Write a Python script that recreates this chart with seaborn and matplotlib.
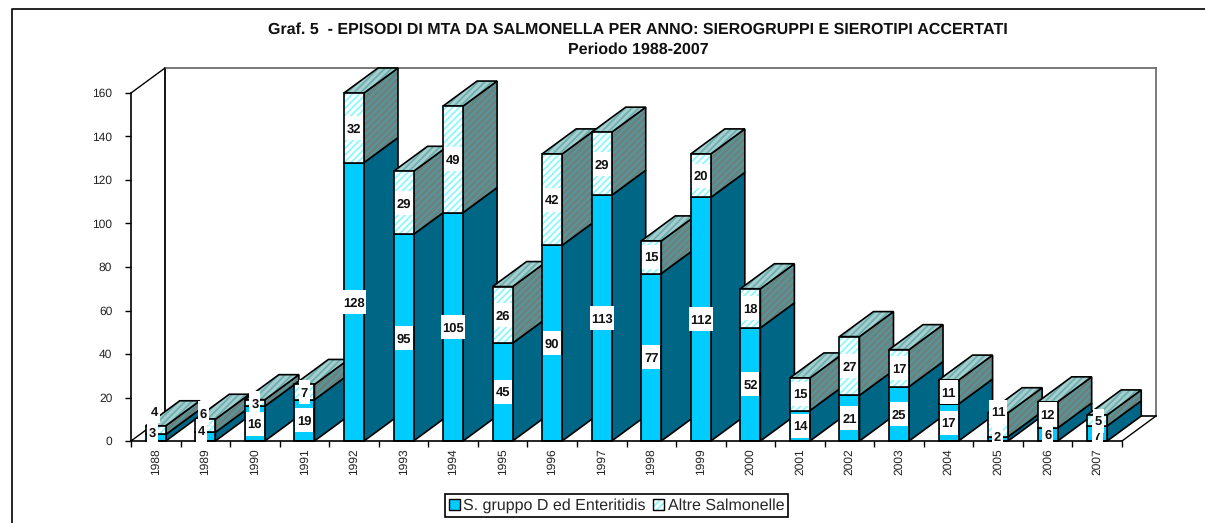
import matplotlib
matplotlib.use("Agg")
import matplotlib.pyplot as plt
import seaborn as sns
from matplotlib.patches import Polygon, Patch, Rectangle
from matplotlib.lines import Line2D
from matplotlib.transforms import Affine2D
from matplotlib.legend_handler import HandlerTuple

years = ["1988","1989","1990","1991","1992","1993","1994","1995","1996","1997",
         "1998","1999","2000","2001","2002","2003","2004","2005","2006","2007"]
gruppo_d = [3,4,16,19,128,95,105,45,90,113,77,112,52,14,21,25,17,2,6,7]
altre = [4,6,3,7,32,29,49,26,42,29,15,20,18,15,27,17,11,11,12,5]

title_1 = "Graf. 5  - EPISODI DI MTA DA SALMONELLA PER ANNO: SIEROGRUPPI E SIEROTIPI ACCERTATI"
title_2 = "Periodo 1988-2007"
legend_labels = ["S. gruppo D ed Enteritidis", "Altre Salmonelle"]

# manual label shifts (pixels, x right / y up) as moved in the original chart
shift_d = {0: (-3, 6), 1: (-4, 6), 17: (-1, 3), 19: (0, -2)}
shift_a = {0: (-1, 19), 1: (-2, 13), 17: (0, 13), 18: (0, 1), 19: (1, -1)}

W, H = 1205, 523
DEPTH = (34, 25)
BAR_PX = 20

sns.set_style("white")
plt.rcParams["font.family"] = ["Liberation Sans", "DejaVu Sans"]
plt.rcParams["hatch.linewidth"] = 1.3
plt.rcParams["text.hinting"] = "no_hinting"
plt.rcParams["text.hinting_factor"] = 1

fig = plt.figure(figsize=(W / 100, H / 100), dpi=100)
L, R, T, B = 131, 1122, 93, 441
ax = fig.add_axes([L / W, 1 - B / H, (R - L) / W, (B - T) / H])

CYAN, LIGHT = "#00CCFF", "#8CF8FF"
DARK = "#006685"
SIDE_BG, SIDE_H = "#6F7F7E", "#4F9A9C"
TOP_BG, TOP_H = "#A5CFCE", "#6FAFB0"

bar_w = BAR_PX / ((R - L) / len(years))
bottoms = list(gruppo_d)
tot = [a + b for a, b in zip(gruppo_d, altre)]

sns.barplot(x=years, y=gruppo_d, color=CYAN, saturation=1, width=bar_w, ax=ax,
            edgecolor="black", linewidth=1.2, order=years)
n1 = len(ax.patches)
sns.barplot(x=years, y=altre, bottom=bottoms, color="white", saturation=1, width=bar_w,
            ax=ax, edgecolor=LIGHT, linewidth=0, hatch="/////", order=years)
n2 = len(ax.patches)
sns.barplot(x=years, y=altre, bottom=bottoms, color="black", fill=False, width=bar_w,
            ax=ax, linewidth=1.2, order=years)
patches = list(ax.patches)

ax.set_xlim(-0.5, len(years) - 0.5)
ax.set_ylim(0, 160)

depth = ax.transData + Affine2D().translate(*DEPTH)
px = (R - L) / len(years)
py = (B - T) / 160
ddx, ddy = DEPTH[0] / px, DEPTH[1] / py


def poly3d(i, y0, y1, kind):
    x0, x1 = i - bar_w / 2, i + bar_w / 2
    if kind == "side":
        return [(x1, y0), (x1 + ddx, y0 + ddy), (x1 + ddx, y1 + ddy), (x1, y1)]
    return [(x0, y1), (x1, y1), (x1 + ddx, y1 + ddy), (x0 + ddx, y1 + ddy)]


for i in range(len(years)):
    z = 10 + i * 10
    d, t = gruppo_d[i], tot[i]
    ax.add_patch(Polygon(poly3d(i, 0, d, "side"), closed=True, fc=DARK, ec="black",
                         lw=1.2, zorder=z, clip_on=False))
    patches[i].set_zorder(z + 1)
    for kind, y0, y1, bg, hc in (("side", d, t, SIDE_BG, SIDE_H), ("top", d, t, TOP_BG, TOP_H)):
        pts = poly3d(i, y0, y1, kind)
        ax.add_patch(Polygon(pts, closed=True, fc=bg, ec=hc, lw=0, hatch="/////",
                             zorder=z + 2, clip_on=False))
        ax.add_patch(Polygon(pts, closed=True, fill=False, ec="black", lw=1.2,
                             zorder=z + 2, clip_on=False))
    patches[n1 + i].set_zorder(z + 3)
    patches[n2 + i].set_zorder(z + 4)
    patches[n1 + i].set_clip_on(False)
    patches[n2 + i].set_clip_on(False)
    patches[i].set_clip_on(False)

# walls
wall = dict(clip_on=False, solid_capstyle="projecting")
ax.plot([-0.5, -0.5], [0, 160], transform=depth, color="black", lw=1.3, zorder=2, **wall)
ax.plot([-0.5, 19.5], [160, 160], transform=depth, color="#707070", lw=1.3, zorder=2, **wall)
ax.plot([19.5, 19.5], [0, 160], transform=depth, color="#707070", lw=1.3, zorder=2, **wall)
ax.plot([-0.5, 19.5], [0, 0], transform=depth, color="black", lw=1.2, zorder=2, **wall)
ax.plot([-0.5, -0.5 + ddx], [160, 160 + ddy], color="black", lw=1.0, zorder=2, clip_on=False)
ax.plot([-0.5, -0.5 + ddx], [0, ddy], color="black", lw=1.0, zorder=2, clip_on=False)
ax.plot([19.5, 19.5 + ddx], [0, ddy], color="black", lw=1.0, zorder=2, clip_on=False)


def label(i, val, centre, shift, zl):
    sx, sy = shift
    x = i + sx / px
    y = centre + sy / py
    wpx = {1: 11, 2: 18, 3: 24}[len(str(val))]
    ax.add_patch(Rectangle((x - wpx / px / 2, y - 12 / py), wpx / px, 24 / py, fc="white",
                           ec="none", zorder=zl + 2 * i, clip_on=False))
    ax.text(x, y, str(val), ha="center", va="center_baseline", fontsize=9.3, fontweight="bold",
            color="#111111", zorder=zl + 2 * i + 1, clip_on=False)


for i in range(len(years)):
    label(i, gruppo_d[i], gruppo_d[i] / 2, shift_d.get(i, (0, 0)), 400)
for i in range(len(years)):
    label(i, altre[i], gruppo_d[i] + altre[i] / 2, shift_a.get(i, (0, 0)), 500)

# axes cosmetics
for s in ("top", "right"):
    ax.spines[s].set_visible(False)
for s in ("left", "bottom"):
    ax.spines[s].set_color("black")
    ax.spines[s].set_linewidth(1.2)
    ax.spines[s].set_zorder(300)
ax.patch.set_alpha(0)
ax.set_xlabel("")
ax.set_ylabel("")
ax.set_yticks(range(0, 161, 20))
ax.tick_params(axis="y", left=True, length=4, width=1.0, color="black", pad=9.5, labelsize=8.8,
               labelcolor="#222222")
ax.set_xticks([i - 0.5 for i in range(len(years) + 1)])
ax.set_xticklabels([])
ax.tick_params(axis="x", which="major", bottom=True, length=4, width=1.0, color="black")
ax.set_xticks(range(len(years)), minor=True)
ax.set_xticklabels(years, minor=True, rotation=90, fontsize=8.8, color="#222222")
ax.tick_params(axis="x", which="minor", bottom=False, length=0, pad=5.5)

fig.text(638 / W, 1 - 29.5 / H, title_1, ha="center", va="center", fontsize=11.25, fontweight="bold", color="#111111")
fig.text(638 / W, 1 - 49.5 / H, title_2, ha="center", va="center", fontsize=11.25, fontweight="bold", color="#111111")

# outer frame, running off the picture at right and bottom
fig.add_artist(Line2D([12 / W, 12 / W, 1], [0, 1 - 9 / H, 1 - 9 / H], color="black", lw=1.2))

h1 = Patch(fc=CYAN, ec="black", lw=1.0)
h2 = (Patch(fc="white", ec=LIGHT, hatch="/////", lw=0), Patch(fill=False, ec="black", lw=1.0))
leg = fig.legend([h1, h2], legend_labels, ncols=2, loc="center",
                 bbox_to_anchor=((447.5 + 785.5) / 2 / W, 1 - 505.5 / H), fontsize=11.4,
                 fancybox=False, framealpha=1, edgecolor="black", handlelength=0.7,
                 handleheight=0.7, handletextpad=0.2, columnspacing=0.5, borderpad=0.25,
                 borderaxespad=0, handler_map={tuple: HandlerTuple(ndivide=1, pad=0)})
leg.get_frame().set_linewidth(1.2)

fig.savefig("out.png", dpi=100)
